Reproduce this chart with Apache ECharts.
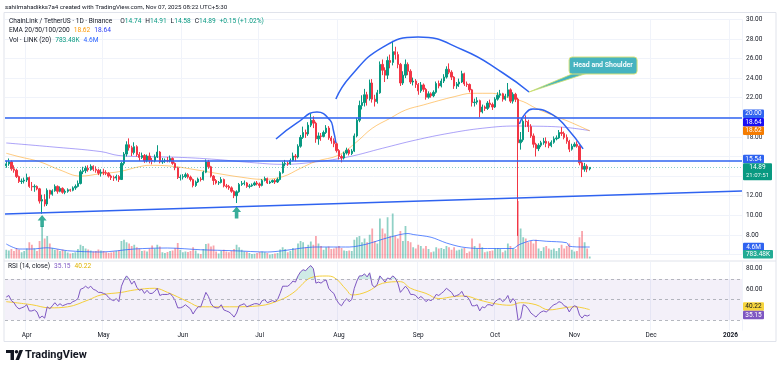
<!DOCTYPE html>
<html><head><meta charset="utf-8">
<script src="https://cdn.jsdelivr.net/npm/echarts@6/dist/echarts.min.js"></script>
<style>html,body{margin:0;padding:0;background:#fff}#c{width:780px;height:370px}</style>
</head><body><div id="c"></div>
<script>
// ---------- DATA ----------
const startDate = [2025, 2, 24];   // 2025-03-24
const axisDays = 288;              // through early Jan 2026
const opens = [15.05,15.25,15.45,14.75,14.60,13.95,13.45,13.50,
13.60,13.85,12.95,12.90,12.95,12.70,11.45,11.60,11.15,12.55,12.15,12.50,12.95,12.45,12.75,12.35,12.45,12.60,12.55,12.80,12.95,13.25,14.45,14.55,14.80,14.65,15.00,14.70,14.60,14.30,
14.40,14.35,14.30,14.00,13.85,13.80,13.95,13.65,15.30,16.25,17.20,16.90,16.40,17.00,16.20,15.90,16.10,15.55,16.05,15.60,15.55,15.95,16.45,15.45,15.55,15.60,15.55,15.80,15.30,14.85,13.85,
13.90,13.95,14.15,13.90,13.65,13.05,13.40,13.70,13.65,14.40,15.45,14.95,14.00,13.55,13.30,13.35,13.65,13.00,12.95,12.80,12.45,12.00,12.40,13.15,13.25,13.30,12.95,13.00,13.10,13.30,
13.20,13.05,13.55,13.75,13.30,13.40,13.55,13.40,13.65,14.35,15.25,15.30,15.25,15.60,16.05,15.95,17.05,17.95,18.45,18.30,19.20,19.70,19.40,17.80,18.10,18.05,18.45,18.90,17.90,17.60,17.30,
16.60,16.00,15.85,16.35,16.65,16.30,16.55,18.10,19.70,21.20,21.50,22.30,21.90,23.50,21.85,21.60,22.50,25.40,24.80,24.30,25.80,25.60,26.70,26.40,25.40,23.50,24.30,25.40,24.70,23.60,23.70,
23.35,22.70,23.30,22.85,22.05,22.40,22.20,22.55,23.45,23.20,23.70,24.10,24.90,24.60,24.10,23.20,23.40,23.60,24.45,23.40,23.35,22.80,21.50,21.55,21.70,20.55,21.05,20.90,21.45,21.30,
21.05,21.85,22.25,22.40,21.85,22.15,22.80,21.65,22.35,21.85,17.40,17.70,19.60,19.55,19.05,18.10,17.25,16.80,17.15,17.40,17.55,17.35,17.10,17.45,17.80,17.90,18.45,18.35,17.95,17.55,16.75,
17.05,17.25,17.05,15.35,14.70,15.00,14.74];
const highs = [15.55,15.80,15.60,15.10,14.75,14.05,13.75,13.85,
14.25,13.95,13.40,13.15,13.05,12.80,12.10,12.15,12.75,12.60,12.65,13.15,13.05,12.95,12.85,12.65,12.75,12.70,12.95,13.15,13.55,14.65,14.95,15.05,15.10,15.20,15.10,15.00,14.75,14.70,
14.75,14.60,14.40,14.15,14.05,14.15,14.10,15.45,16.45,17.55,17.85,17.10,17.45,17.15,16.45,16.40,16.25,16.20,16.40,15.85,16.20,17.15,16.55,15.85,15.80,15.95,16.10,15.90,15.40,14.95,14.15,
14.20,14.35,14.30,14.05,13.75,13.55,13.85,13.90,14.55,15.70,15.65,15.05,14.10,13.70,13.50,13.90,13.75,13.20,13.10,12.95,12.55,12.55,13.30,13.50,13.55,13.40,13.20,13.25,13.45,13.50,
13.35,13.70,13.95,13.85,13.55,13.65,13.70,13.85,14.50,15.45,15.65,15.50,15.80,16.40,16.25,17.25,18.20,19.05,18.75,19.50,20.40,20.10,19.55,18.45,18.40,18.65,19.20,19.10,18.10,17.85,17.45,
16.75,16.20,16.50,16.90,16.80,16.75,18.35,19.95,21.70,22.25,22.90,22.60,23.85,23.90,22.30,22.80,25.70,25.90,25.10,26.20,26.40,27.80,27.20,26.70,25.55,24.70,25.90,25.60,24.90,24.05,23.90,
23.50,23.60,23.45,23.00,22.65,22.55,22.75,23.65,23.75,23.95,24.40,25.20,25.50,24.80,24.20,23.60,23.95,24.75,24.55,23.65,23.45,22.90,21.90,22.05,21.80,21.30,21.20,21.65,21.80,21.50,
22.05,22.55,22.80,22.50,22.40,23.50,22.95,22.55,22.50,22.00,18.50,19.80,20.20,19.75,19.30,18.35,17.40,17.35,17.60,17.90,17.95,17.55,17.65,18.05,18.15,18.70,19.00,18.55,18.25,17.70,17.30,
17.45,17.55,17.15,15.55,15.35,15.20,14.91];
const lows = [14.85,15.05,14.55,14.35,13.80,13.30,13.20,13.25,
13.40,12.80,12.50,12.40,12.55,11.20,10.15,10.90,10.95,11.70,12.00,12.40,12.20,12.35,12.20,12.15,12.30,12.40,12.45,12.60,12.85,13.15,14.20,14.30,14.45,14.55,14.50,14.35,14.10,13.95,
14.10,14.10,13.85,13.60,13.50,13.55,13.40,13.60,15.10,16.00,16.60,16.05,16.20,16.00,15.55,15.75,15.35,15.40,15.30,15.20,15.40,15.85,15.30,15.25,15.35,15.40,15.40,15.15,14.60,13.70,13.55,
13.65,13.80,13.75,13.45,12.85,12.90,13.30,13.45,13.55,14.30,14.75,13.85,13.10,13.15,13.10,13.25,12.85,12.75,12.60,12.30,11.75,11.25,12.30,13.00,13.05,12.80,12.75,12.90,13.00,13.05,
12.80,12.95,13.45,13.20,13.20,13.30,13.20,13.30,13.55,14.25,15.00,15.05,15.15,15.50,15.50,15.80,16.90,17.80,17.90,18.10,19.00,18.90,17.40,17.20,17.60,17.95,18.30,17.70,17.30,16.95,16.40,
15.70,15.40,15.70,16.20,16.10,16.15,16.45,17.95,19.50,20.80,21.10,21.20,21.70,21.50,21.10,21.40,22.40,24.30,23.60,23.90,25.00,25.30,25.90,25.00,23.20,23.30,24.00,24.30,23.40,23.25,23.00,
22.30,22.50,22.60,21.80,21.90,22.00,22.05,22.40,22.95,23.05,23.50,23.95,24.40,23.80,22.90,22.90,23.10,23.50,23.20,23.10,22.55,21.10,21.10,21.30,20.00,20.40,20.65,20.75,21.00,20.75,
20.95,21.70,22.00,21.60,21.70,22.00,21.45,21.40,21.55,7.90,16.70,17.50,19.00,18.50,17.90,16.90,16.00,16.55,16.95,17.20,16.95,16.85,16.95,17.30,17.65,17.80,18.10,17.75,17.30,16.45,16.60,
16.95,16.90,15.10,13.90,14.45,14.40,14.58];
const closes = [15.25,15.45,14.75,14.60,13.95,13.45,13.50,13.60,
13.85,12.95,12.90,12.95,12.70,11.45,11.60,11.15,12.55,12.15,12.50,12.95,12.45,12.75,12.35,12.45,12.60,12.55,12.80,12.95,13.25,14.45,14.55,14.80,14.65,15.00,14.70,14.60,14.30,14.40,
14.35,14.30,14.00,13.85,13.80,13.95,13.65,15.30,16.25,17.20,16.90,16.40,17.00,16.20,15.90,16.10,15.55,16.05,15.60,15.55,15.95,16.45,15.45,15.55,15.60,15.55,15.80,15.30,14.85,13.85,13.90,
13.95,14.15,13.90,13.65,13.05,13.40,13.70,13.65,14.40,15.45,14.95,14.00,13.55,13.30,13.35,13.65,13.00,12.95,12.80,12.45,12.00,12.40,13.15,13.25,13.30,12.95,13.00,13.10,13.30,13.20,
13.05,13.55,13.75,13.30,13.40,13.55,13.40,13.65,14.35,15.25,15.30,15.25,15.60,16.05,15.95,17.05,17.95,18.45,18.30,19.20,19.70,19.40,17.80,18.10,18.05,18.45,18.90,17.90,17.60,17.30,16.60,
16.00,15.85,16.35,16.65,16.30,16.55,18.10,19.70,21.20,21.50,22.30,21.90,23.50,21.85,21.60,22.50,25.40,24.80,24.30,25.80,25.60,26.70,26.40,25.40,23.50,24.30,25.40,24.70,23.60,23.70,23.35,
22.70,23.30,22.85,22.05,22.40,22.20,22.55,23.45,23.20,23.70,24.10,24.90,24.60,24.10,23.20,23.40,23.60,24.45,23.40,23.35,22.80,21.50,21.55,21.70,20.55,21.05,20.90,21.45,21.30,21.05,
21.85,22.25,22.40,21.85,22.15,22.80,21.65,22.35,21.85,17.40,17.70,19.60,19.55,19.05,18.10,17.25,16.80,17.15,17.40,17.55,17.35,17.10,17.45,17.80,17.90,18.45,18.35,17.95,17.55,16.75,17.05,
17.25,17.05,15.35,14.70,15.00,14.74,14.89];
const volumes = [3.5,3.2,3.8,3.0,4.2,3.5,2.5,3.0,
4.0,6.5,5.5,4.0,3.0,7.0,13.0,8.0,9.0,6.0,4.2,3.5,3.8,3.0,3.6,3.0,2.4,2.0,2.2,2.5,3.8,5.5,5.0,4.0,3.6,3.2,2.8,3.0,3.6,3.2,
3.0,2.5,2.2,2.4,2.8,3.0,3.2,7.0,7.5,6.5,6.0,5.0,5.5,4.5,4.0,3.0,3.2,2.8,4.0,5.2,4.0,5.5,4.8,2.5,2.2,2.6,3.0,3.2,4.2,6.2,3.5,
2.5,2.8,2.6,3.0,4.5,3.2,2.0,1.8,3.8,5.8,6.0,4.8,5.2,2.8,2.0,3.0,3.5,2.8,2.5,3.0,3.8,5.5,4.5,3.5,2.8,2.6,2.2,1.8,1.9,2.2,
2.6,2.8,2.5,2.2,1.6,1.8,2.0,2.2,3.6,4.5,3.8,2.5,3.0,4.2,3.8,6.0,7.0,6.5,4.5,5.5,6.8,5.5,9.0,6.0,5.0,3.5,4.5,4.8,3.8,4.0,4.5,
5.0,4.2,3.2,3.0,3.2,3.0,7.5,8.5,9.0,6.5,8.0,6.5,9.5,12.0,7.0,6.0,16.0,12.0,10.0,16.5,9.0,18.0,9.0,8.0,11.0,7.0,13.0,7.0,6.5,4.5,4.0,
5.5,5.0,4.0,5.0,3.8,2.5,2.8,4.5,4.0,4.2,3.8,5.0,4.5,3.5,4.5,3.2,3.5,4.0,4.2,2.2,2.8,8.0,5.0,4.0,6.0,4.5,2.5,2.8,3.0,3.2,
4.0,4.2,3.8,2.5,3.2,6.0,5.0,4.0,3.8,23.0,12.0,8.5,8.0,6.5,7.0,6.0,7.5,4.0,3.0,4.5,5.0,4.0,3.5,4.0,3.0,4.2,5.5,4.0,5.0,6.0,3.5,
2.8,3.0,8.5,11.0,6.5,4.0,0.78348];
const rsi = [52.5,54,49,47,43,41,42,43,45,39,39,40,38,32,34,32,43,41,44,47,
44,46,44,45,46,46,48,49,51,60,61,63,61,63,60,59,57,57,56,55,
52,50,49,51,48,63,69,73,70,65,68,62,59,60,56,59,56,56,58,61,
54,55,55,55,56,53,49,42,42,43,45,43,41,36,40,43,43,50,57,53,
46,43,42,42,45,40,39,38,36,33,37,44,45,46,43,44,45,46,46,45,
49,50,47,48,49,48,50,56,63,63,63,65,68,67,73,77,79,78,81,83,
80,66,67,66,68,69,61,58,56,50,46,44,48,51,48,50,61,68,73,73,
75,72,76,64,62,65,73,70,67,71,70,73,71,66,57,60,63,60,55,55,
54,51,53,51,48,50,49,51,55,54,56,58,61,59,57,53,54,55,58,53,
53,50,44,44,45,39,43,42,45,45,44,48,50,51,48,50,54,47,51,48,
30,32,45,44,41,37,35,33,36,38,39,38,40,43,45,46,48,47,44,43,
38,42,44,43,35,32,35,34,35.15];
// indicator lines: [day index, value]
const ema200 = [[0,17.38],[17,17.0],[37,16.5],[44,16.1],[56,15.98],[69,15.9],[82,15.7],[95,15.4],[108,15.2],[121,15.45],[134,15.98],[147,16.84],[160,17.68],[173,18.37],[186,18.88],[199,19.11],[205,19.1],[218,18.98],[228,18.64]];
const ema50 = [[0,16.33],[5,15.98],[13,15.47],[21,14.62],[29,14.0],[37,14.25],[44,14.45],[52,14.96],[56,15.1],[64,15.03],[73,14.69],[82,14.29],[92,13.88],[100,13.67],[108,13.94],[115,14.8],[121,15.5],[130,16.15],[137,17.51],[143,18.88],[150,19.9],[156,20.74],[163,21.26],[169,21.7],[175,22.1],[182,22.45],[190,22.45],[197,21.94],[202,21.6],[207,20.92],[215,20.06],[220,19.55],[228,18.62]];
const volMA = [[0,5.8],[5,3.8],[10,3.8],[16,4.3],[24,3.1],[37,2.6],[50,3.8],[63,4.2],[76,3.5],[89,3.1],[102,2.6],[108,3.1],[115,4.1],[121,4.6],[128,4.6],[134,4.6],[141,5.8],[147,7.7],[154,9.6],[157,10],[159,9.6],[166,8.5],[172,6.2],[178,4.6],[185,4.0],[198,4.0],[200,5.3],[202,6.2],[206,7.3],[211,6.9],[219,6.3],[220,4.9],[226,4.6],[228,4.6]];
const rsiMA = [[0,48],[10,45],[17,42],[24,43],[32,49.6],[37,54.5],[45,57],[50,59.3],[58,61],[63,57],[71,48],[76,43],[89,43],[99,44],[107,49.6],[112,56.4],[120,72],[125,72.9],[128,71.6],[133,59.3],[135,54.5],[141,57.7],[147,65.8],[154,67.4],[158,61],[164,56],[169,51],[175,53],[179,53.5],[185,49.5],[191,46],[197,44.5],[201,47],[207,45],[212,40],[218,42],[222,43],[228,40.22]];
// drawn annotations: [day index, price]
const leftShoulder = [[105.4,17.79],[113.6,19.42],[121.4,20.54],[126.5,19.72],[127.8,18.7],[128.8,17.38]];
const headArc = [[128.8,21.87],[134.3,24.11],[147.2,27.17],[160.9,28.19],[178.5,26.87],[194.1,24.52],[204.3,22.58]];
const rightShoulder = [[200.5,19.32],[202.7,20.34],[205.8,20.85],[213.6,20.24],[219.1,18.91],[225.4,16.77]];
const trendLine = [[-0.5,10.13],[287.5,12.49]];
const levels = [20.00, 15.54];
const arrows = [[14, 9.42],[90, 10.29]];
const emaLast = {e50: 18.62, e200: 18.64};
const volMALabel = '4.6M', volLastLabel = '783.48K';
const rsiLast = 35.15, rsiMALast = 40.22;
const countdown = '21:07:51';
const hiddenPriceLabels = [6, 14, 16, 20];   // covered by value tags in the original

// ---------- CHART ----------
const FONT = 'Roboto, "Liberation Sans", Arial, sans-serif';
const UP = '#089981', DN = '#f23645', BLUE = '#2f63f0';
const dates = [];
for (let i = 0; i < axisDays; i++) {
  const d = new Date(Date.UTC(startDate[0], startDate[1], startDate[2] + i));
  dates.push(d.toISOString().slice(0, 10));
}
const N = closes.length;
const MONTHS = ['Jan','Feb','Mar','Apr','May','Jun','Jul','Aug','Sep','Oct','Nov','Dec'];
const monthFirst = (idx, val) => String(val).slice(8) === '01';
const toCat = arr => arr.map(p => [dates[p[0]], p[1]]);

const chart = echarts.init(document.getElementById('c'));
const candleData = closes.map((c, i) => [opens[i], c, lows[i], highs[i]]);
const volData = volumes.map((v, i) => ({ value: v, itemStyle: { color: closes[i] >= opens[i] ? 'rgba(8,153,129,0.45)' : 'rgba(242,54,69,0.45)' } }));
const obBase = rsi.map(() => 70);
const obFill = rsi.map(v => Math.max(v - 70, 0));

const annLine = (data, extra) => Object.assign({
  type: 'line', xAxisIndex: 3, yAxisIndex: 0, data, showSymbol: false, silent: true, z: 6,
  lineStyle: { color: BLUE, width: 1.5 }
}, extra || {});

chart.setOption({
  animation: false,
  backgroundColor: '#ffffff',
  grid: [
    { left: 5, right: 38, top: 19.3, height: 235.2 },
    { left: 5, right: 38, top: 183.5, height: 75 },
    { left: 5, right: 38, top: 262, height: 68.5 }
  ],
  xAxis: [
    { type: 'category', gridIndex: 0, data: dates, axisLine: { show: false }, axisTick: { show: false }, axisLabel: { show: false },
      splitLine: { show: true, interval: monthFirst, lineStyle: { color: '#f0f3fa' } } },
    { type: 'category', gridIndex: 1, data: dates, show: false },
    { type: 'category', gridIndex: 2, data: dates, axisLine: { show: false }, axisTick: { show: false },
      axisLabel: { show: true, interval: monthFirst, margin: 1, color: '#131722', fontSize: 6.5, fontFamily: FONT,
        rich: { yr: { fontWeight: 'bold', fontSize: 6.5, fontFamily: FONT, color: '#131722' } },
        formatter: v => { const m = +v.slice(5, 7); return m === 1 ? '{yr|' + v.slice(0, 4) + '}' : MONTHS[m - 1]; } },
      splitLine: { show: true, interval: monthFirst, lineStyle: { color: '#f0f3fa' } } },
    { type: 'value', gridIndex: 0, min: -0.5, max: axisDays - 0.5, show: false }
  ],
  yAxis: [
    { type: 'value', gridIndex: 0, position: 'right', min: 6, max: 30, interval: 2,
      axisLine: { show: false }, axisTick: { show: false },
      axisLabel: { color: '#131722', fontSize: 6.5, fontFamily: FONT, margin: 4,
        formatter: v => hiddenPriceLabels.includes(v) ? '' : v.toFixed(2) },
      splitLine: { lineStyle: { color: '#f0f3fa' } } },
    { type: 'value', gridIndex: 1, min: 0, max: 30, show: false },
    { type: 'value', gridIndex: 2, position: 'right', min: 20, max: 86.5, interval: 20,
      axisLine: { show: false }, axisTick: { show: false },
      axisLabel: { color: '#131722', fontSize: 6.5, fontFamily: FONT, margin: 4, formatter: v => (v === 60 || v === 80) ? v.toFixed(2) : '' },
      splitLine: { show: false } }
  ],
  series: [
    { type: 'bar', xAxisIndex: 1, yAxisIndex: 1, data: volData, barWidth: '70%', z: 1, silent: true },
    { type: 'line', xAxisIndex: 1, yAxisIndex: 1, data: toCat(volMA), smooth: 0.3, showSymbol: false, z: 2,
      lineStyle: { color: 'rgba(41,98,255,0.75)', width: 1 } },
    { type: 'line', xAxisIndex: 0, yAxisIndex: 0, data: toCat(ema200), smooth: 0.4, showSymbol: false, z: 3,
      lineStyle: { color: 'rgba(70,50,240,0.45)', width: 1 } },
    { type: 'line', xAxisIndex: 0, yAxisIndex: 0, data: toCat(ema50), smooth: 0.4, showSymbol: false, z: 3,
      lineStyle: { color: 'rgba(255,152,0,0.5)', width: 1 } },
    { type: 'candlestick', xAxisIndex: 0, yAxisIndex: 0, data: candleData, barWidth: '70%', z: 4,
      itemStyle: { color: UP, color0: DN, borderColor: UP, borderColor0: DN, borderWidth: 1 },
      markLine: { silent: true, symbol: 'none', label: { show: false },
        data: [
          { yAxis: levels[0], lineStyle: { color: BLUE, width: 1.5, type: 'solid' } },
          { yAxis: levels[1], lineStyle: { color: BLUE, width: 1.5, type: 'solid' } },
          { yAxis: closes[N - 1], lineStyle: { color: 'rgba(8,153,129,0.45)', width: 1, type: [1, 2] } }
        ] } },
    annLine(trendLine),
    annLine(leftShoulder, { smooth: 0.5 }),
    annLine(headArc, { smooth: 0.5 }),
    annLine(rightShoulder, { smooth: 0.5 }),
    { type: 'scatter', xAxisIndex: 0, yAxisIndex: 0, data: toCat(arrows), z: 7, silent: true,
      symbol: 'path://M5,0 L10,6 L7,6 L7,13 L3,13 L3,6 L0,6 Z', symbolSize: [9, 12], itemStyle: { color: UP } },
    { type: 'line', xAxisIndex: 2, yAxisIndex: 2, data: obBase, stack: 'ob', showSymbol: false, lineStyle: { width: 0 }, silent: true, z: 2 },
    { type: 'line', xAxisIndex: 2, yAxisIndex: 2, data: obFill, stack: 'ob', showSymbol: false, lineStyle: { width: 0 }, silent: true, z: 2,
      areaStyle: { color: 'rgba(8,153,129,0.28)' } },
    { type: 'line', xAxisIndex: 2, yAxisIndex: 2, data: rsi, showSymbol: false, z: 4,
      lineStyle: { color: '#7e57c2', width: 1 },
      markArea: { silent: true, itemStyle: { color: 'rgba(126,87,194,0.09)' }, data: [[{ yAxis: 30 }, { yAxis: 70 }]] },
      markLine: { silent: true, symbol: 'none', label: { show: false }, lineStyle: { color: '#a3a6af', width: 0.8, type: [3, 3] },
        data: [{ yAxis: 70 }, { yAxis: 50 }, { yAxis: 30 }] } },
    { type: 'line', xAxisIndex: 2, yAxisIndex: 2, data: toCat(rsiMA), smooth: 0.4, showSymbol: false, z: 3,
      lineStyle: { color: '#f5cf3b', width: 1 } }
  ]
});

// ---------- TEXT & TAGS ----------
const py = v => chart.convertToPixel({ yAxisIndex: 0 }, v);
const vy = v => chart.convertToPixel({ yAxisIndex: 1 }, v);
const ry = v => chart.convertToPixel({ yAxisIndex: 2 }, v);
const ax = v => chart.convertToPixel({ xAxisIndex: 3 }, v);
const TAGX = 743, TH = 8.5, ZT = 100;
function tag(cy, lines, bg, fg, w) {
  const out = [{ type: 'rect', z: ZT, silent: true, shape: { x: TAGX, y: cy - TH / 2, width: w, height: TH * lines.length, r: 1 }, style: { fill: bg } }];
  lines.forEach((t, k) => out.push({ type: 'text', z: ZT + 1, silent: true, x: TAGX + w / 2, y: cy + k * TH,
    style: { text: t, fill: fg, font: (k ? '6px ' : '6.5px ') + FONT, align: 'center', verticalAlign: 'middle', opacity: k ? 0.9 : 1 } }));
  return out;
}
const last = closes[N - 1];
const yLast = py(last);
const y1554 = Math.min(py(levels[1]), yLast - TH);
const y1862 = py(emaLast.e50);
const y1864 = Math.min(py(emaLast.e200), y1862 - TH);
const y20 = Math.min(py(levels[0]), y1864 - TH);
const yVolMA = vy(4.6);
const yVolLast = Math.min(vy(volumes[N - 1]), 258.5 - TH / 2);
const yRsi = ry(rsiLast);
const yRsiMA = Math.min(ry(rsiMALast), yRsi - TH);
const chg = last - closes[N - 2];
const f2 = v => v.toFixed(2);

const tip = [ax(headArc[headArc.length - 1][0]), py(headArc[headArc.length - 1][1])];
const bx = tip[0] + 40, byy = tip[1] - 35;

const LF = 6.6;
const rs = c => ({ fill: c, fontSize: LF, fontFamily: FONT });
const rich = { t: rs('#131722'), v: rs(UP), o: rs('#ff9800'), b: rs('#2a3cf5'), vb: rs('#2962ff'), p: rs('#7e57c2'), y: rs('#e0b400'),
  s: { fontSize: LF, width: 4 }, g: { fontSize: LF, width: 8 } };
const graphics = [
  { type: 'rect', z: 0, silent: true, shape: { x: 4, y: 12.5, width: 772, height: 329 }, style: { fill: 'none', stroke: '#e0e3eb', lineWidth: 1 } },
  { type: 'line', z: 0, silent: true, shape: { x1: 4, y1: 261, x2: 776, y2: 261 }, style: { stroke: '#e0e3eb', lineWidth: 1 } },
  { type: 'text', z: ZT, silent: true, x: 5, y: 7, style: { text: 'sahilmahadikks7a4 created with TradingView.com, Nov 07, 2025 08:22 UTC+5:30', fill: '#131722', font: '6.2px ' + FONT, verticalAlign: 'middle' } },
  { type: 'text', z: ZT, silent: true, x: 9, y: 21, style: { verticalAlign: 'middle', rich,
    text: `{t|ChainLink / TetherUS · 1D · Binance}{g|}{t|O}{v|${f2(opens[N-1])}}{s|}{t|H}{v|${f2(highs[N-1])}}{s|}{t|L}{v|${f2(lows[N-1])}}{s|}{t|C}{v|${f2(last)}}{s|}{v|${chg >= 0 ? '+' : ''}${f2(chg)} (${chg >= 0 ? '+' : ''}${f2(chg / closes[N-2] * 100)}%)}` } },
  { type: 'text', z: ZT, silent: true, x: 9, y: 30.5, style: { verticalAlign: 'middle', rich, text: `{t|EMA 20/50/100/200}{s|}{o|${f2(emaLast.e50)}}{s|}{b|${f2(emaLast.e200)}}` } },
  { type: 'text', z: ZT, silent: true, x: 9, y: 40, style: { verticalAlign: 'middle', rich, text: `{t|Vol · LINK (20)}{s|}{v|${volLastLabel}}{s|}{vb|${volMALabel}}` } },
  { type: 'text', z: ZT, silent: true, x: 8, y: 266.5, style: { verticalAlign: 'middle', rich, text: `{t|RSI (14, close)}{s|}{p|${f2(rsiLast)}}{s|}{y|${f2(rsiMALast)}}` } },
  ...tag(y20, [f2(levels[0])], '#2f63f0', '#fff', 21),
  ...tag(y1864, [f2(emaLast.e200)], '#1a0ff5', '#fff', 21),
  ...tag(y1862, [f2(emaLast.e50)], '#f57c00', '#fff', 21),
  ...tag(y1554, [f2(levels[1])], '#2f63f0', '#fff', 21),
  ...tag(yLast, [f2(last), countdown], UP, '#fff', 29),
  ...tag(yVolMA, [volMALabel], '#2f63f0', '#fff', 21),
  ...tag(yVolLast, [volLastLabel], '#22ab94', '#fff', 30),
  ...tag(yRsiMA, [f2(rsiMALast)], '#f7d53e', '#131722', 21),
  ...tag(yRsi, [f2(rsiLast)], '#7e57c2', '#fff', 21),
  // callout
  { type: 'polygon', z: ZT + 1, silent: true, shape: { points: [tip, [bx + 4, byy + 16.5], [bx + 17, byy + 16.5]] },
    style: { fill: '#46b3c0', stroke: '#cfe06a', lineWidth: 0.8 } },
  { type: 'rect', z: ZT + 2, silent: true, shape: { x: bx, y: byy, width: 68, height: 17, r: 3 },
    style: { fill: '#46b3c0', stroke: '#d7e37a', lineWidth: 1 } },
  { type: 'text', z: ZT + 3, silent: true, x: bx + 34, y: byy + 8.5, style: { text: 'Head and Shoulder', fill: '#fff', font: '600 7px ' + FONT, align: 'center', verticalAlign: 'middle' } },
  // TradingView logo
  { type: 'rect', z: ZT, silent: true, shape: { x: 6, y: 350, width: 8, height: 3 }, style: { fill: '#131722' } },
  { type: 'rect', z: ZT, silent: true, shape: { x: 10.5, y: 350, width: 3.5, height: 10 }, style: { fill: '#131722' } },
  { type: 'circle', z: ZT, silent: true, shape: { cx: 16.5, cy: 351.8, r: 1.8 }, style: { fill: '#131722' } },
  { type: 'polygon', z: ZT, silent: true, shape: { points: [[19.5, 350], [23, 350], [19, 360], [15.5, 360]] }, style: { fill: '#131722' } },
  { type: 'text', z: ZT, silent: true, x: 25, y: 355.5, style: { text: 'TradingView', fill: '#131722', font: 'bold 11px ' + FONT, verticalAlign: 'middle' } }
];
chart.setOption({ graphic: graphics });
</script>
</body></html>
